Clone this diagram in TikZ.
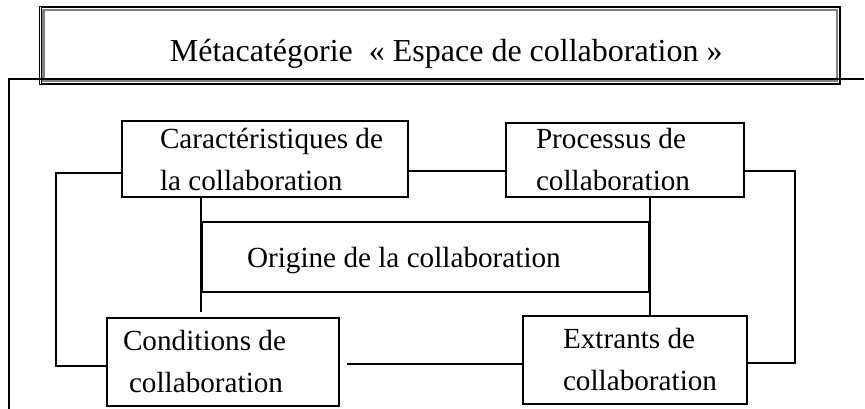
\documentclass[tikz,border=0pt]{standalone}
\usepackage{fontspec}
\setmainfont{Liberation Serif}
\usepackage{tikz}
\usetikzlibrary{calc}
\hyphenpenalty=10000

\begin{document}
\begin{tikzpicture}[x=0.75pt,y=-0.75pt,
every node/.style={font=\fontsize{21.9pt}{31.5pt}\selectfont},
catbox/.style={draw,line width=1.5pt,align=flush left,inner ysep=0pt},
wire/.style={line width=1.5pt}]
\useasboundingbox (0,0) rectangle (865,409);
\node [draw,line width=0.75pt,minimum width=600.5pt,minimum height=58.7pt,
text height=24.3pt,text depth=0pt,font=\fontsize{24pt}{28pt}\selectfont] (meta) at (440.2,45.6)
{\hspace*{9pt}Métacatégorie\ \ « Espace de collaboration »};
\draw[line width=0.75pt] ([shift={(2,2)}]meta.north west) rectangle ([shift={(-2,-2)}]meta.south east);
\draw[gray,line width=1.8pt] ([shift={(4,4)}]meta.north west) rectangle ([shift={(-4,-4)}]meta.south east);
\coordinate (fl) at (9,409);
\coordinate (fr) at (864,79);
\draw[wire] (fl) |- (fr);
\node [catbox,text width=157.5pt,inner xsep=28.5pt,minimum height=57pt] (carac) at (265,159)
{\mbox{Caractéristiques de}\\la collaboration};
\node [catbox,text width=133.5pt,inner xsep=22.5pt,minimum height=55.5pt] (proc) at (625,160)
{Processus de\\collaboration};
\node [catbox,text width=267.75pt,inner xsep=33.75pt,minimum height=52.5pt,text depth=0pt] (orig) at (425.5,257)
{Origine de la collaboration};
\node [catbox,text width=150pt,inner xsep=12pt,minimum height=66pt] (cond) at (223,362)
{Conditions de\\\hspace*{4.5pt}collaboration};
\node [catbox,text width=108pt,inner xsep=30pt,minimum height=66pt] (ext) at (635,360)
{Extrants de\\\mbox{collaboration}};
\draw[wire] (carac.west |- 0,173) -- ++(-65,0) |- (cond.west |- 0,366);
\draw[wire] (carac.east |- 0,171) -- (proc.west |- 0,171);
\draw[wire] (proc.east |- 0,171) -- ++(50,0) |- (ext.east |- 0,363);
\draw[wire,shorten <=5.25pt] (cond.east |- 0,364) -- (ext.west |- 0,364);
\draw[wire,shorten >=3.75pt] (orig.west |- carac.south) -- (orig.west |- cond.north);
\draw[wire] (orig.east |- proc.south) -- (orig.east |- ext.north);
\end{tikzpicture}
\end{document}
